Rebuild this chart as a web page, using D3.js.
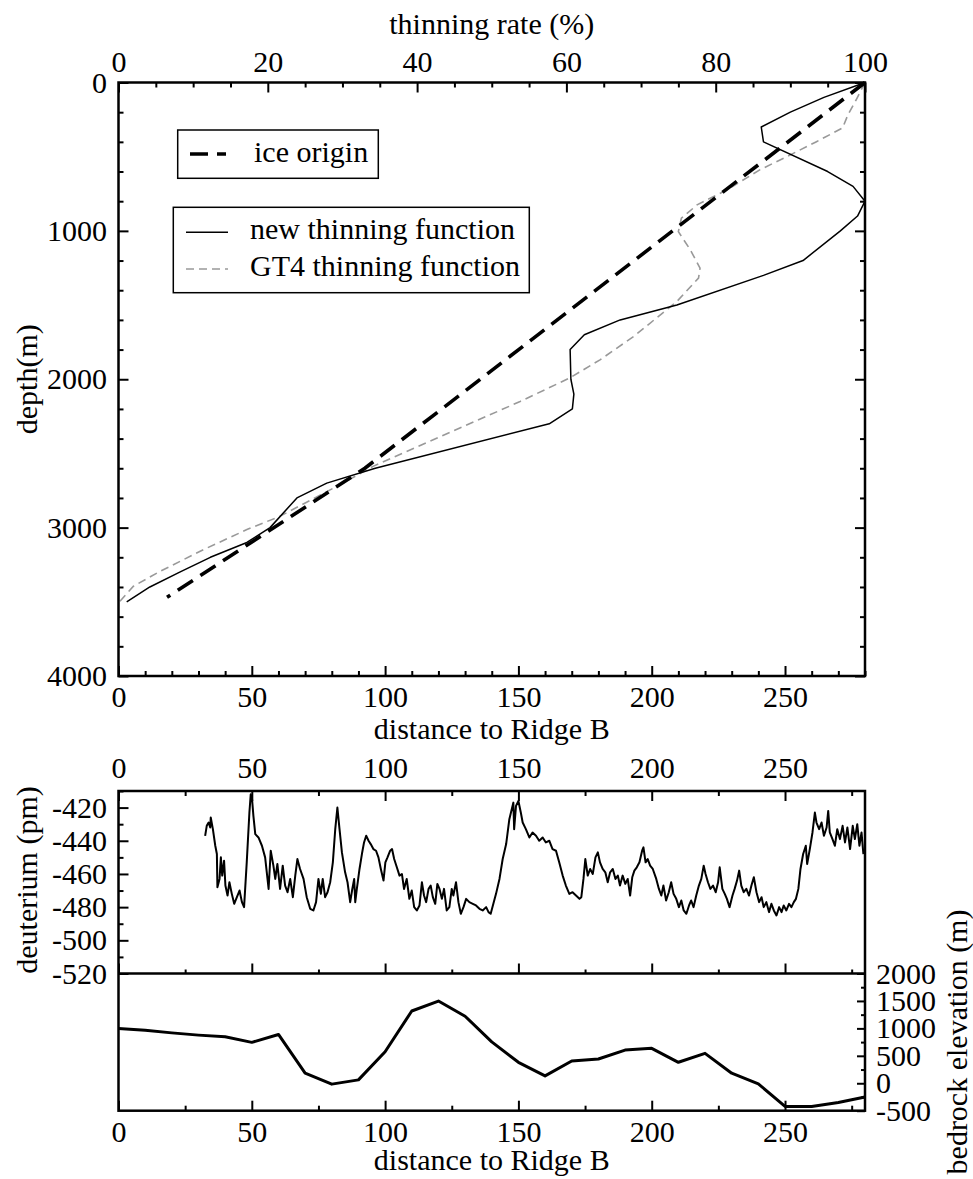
<!DOCTYPE html>
<html><head><meta charset="utf-8">
<script src="https://cdn.jsdelivr.net/npm/d3@7"></script>
<style>body{margin:0;background:#fff}</style>
</head><body><svg id="c" width="973" height="1179"></svg>
<script>
// ---------- DATA ----------
// Top panel: depth (m) vs thinning rate (%)
const thinDepth = [0,100,200,300,400,600,700,800,900,1000,1200,1300,1500,1600,1700,1800,2000,2100,2200,2300,2600,2700,2800,3000,3100,3200,3300,3400,3500];
const thinNew   = [100,94.5,90.0,86.1,86.4,95.0,98.4,100,99.0,96.7,91.7,86.4,74.8,67.2,62.4,60.5,60.6,61.0,60.8,57.7,34.4,27.9,23.9,20.3,17.2,12.3,8.2,4.2,1.1];
const gt4Depth  = [0,118,219,306,399,500,589,724,825,915,1005,1128,1251,1318,1476,1712,1869,1990,2150,2587,2710,2924,3013,3148,3294,3395,3496];
const gt4Rate   = [100,98.8,97.7,97.0,93.5,89.5,85.9,81.5,77.5,75.4,75.0,76.6,77.9,77.7,74.8,69.0,64.5,60.5,53.8,34.1,29.7,21.6,17.2,11.4,5.6,2.0,0.2];
const iceDepth  = [0,2600,3470];
const iceRate   = [100,33.0,6.5];

// Middle panel: deuterium (pm) vs distance to Ridge B  [distance, value]
const deuterium = [
[32.5,-437],[33.1,-431],[33.8,-429],[34.4,-432],[34.6,-426],[35.4,-433],[36.3,-443],[36.9,-448],[37.1,-468],[37.9,-463],
[38.4,-450],[38.9,-461],[39.6,-452],[40.1,-467],[40.9,-473],[41.6,-465],[42.5,-472],[43.4,-478],[44.4,-474],[45.4,-470],
[46.3,-477],[47.1,-480],[48.1,-453],[49.1,-423],[49.6,-412],[50.1,-415],[50.6,-425],[51.3,-436],[52.5,-438],[53.8,-443],
[55.0,-450],[56.3,-469],[57.1,-446],[58.1,-455],[58.8,-463],[59.6,-454],[60.6,-469],[61.6,-455],[62.5,-467],[63.4,-471],
[64.4,-463],[65.4,-474],[66.3,-461],[67.1,-451],[68.1,-457],[69.4,-463],[70.6,-474],[71.9,-481],[73.1,-482],[74.1,-477],
[75.0,-463],[75.9,-472],[76.6,-463],[77.5,-474],[78.4,-471],[79.4,-465],[80.4,-453],[81.3,-433],[82.1,-420],[82.9,-433],
[83.8,-447],[85.0,-459],[85.9,-465],[86.9,-477],[87.6,-470],[88.4,-463],[88.8,-477],[89.4,-469],[90.4,-457],[91.3,-448],
[92.1,-441],[92.9,-437],[93.8,-440],[94.6,-442],[95.6,-445],[96.6,-446],[97.5,-450],[98.4,-457],[99.4,-464],[100.1,-453],
[100.9,-450],[101.9,-446],[102.6,-445],[103.4,-451],[104.4,-456],[105.4,-461],[106.3,-460],[107.1,-469],[108.1,-463],[109.1,-475],
[110.0,-470],[110.9,-480],[111.9,-482],[112.9,-479],[113.8,-465],[114.6,-473],[115.4,-477],[116.3,-469],[117.1,-467],[117.9,-474],
[118.8,-478],[119.6,-466],[120.4,-469],[121.3,-475],[122.1,-469],[123.1,-482],[124.1,-480],[125.0,-469],[125.6,-473],[126.6,-465],
[127.5,-477],[128.4,-484],[129.4,-480],[130.4,-475],[131.6,-477],[132.9,-478],[134.1,-479],[135.4,-481],[136.6,-482],[137.9,-480],
[138.8,-483],[139.6,-484],[140.6,-478],[141.6,-472],[142.9,-463],[144.1,-451],[145.4,-442],[146.6,-427],[147.5,-421],[148.1,-417],
[148.4,-433],[149.1,-419],[150.0,-416],[150.9,-423],[151.6,-429],[152.8,-433],[154.1,-438],[155.3,-435],[156.6,-437],[157.8,-440],
[159.1,-438],[160.3,-441],[161.6,-440],[162.8,-445],[164.1,-446],[165.3,-453],[166.6,-461],[167.8,-467],[169.1,-472],[170.3,-471],
[171.6,-473],[172.9,-475],[173.6,-474],[174.4,-463],[175.1,-451],[176.0,-461],[176.9,-457],[177.9,-460],[178.9,-450],[179.8,-447],
[180.6,-453],[181.6,-457],[182.6,-459],[183.5,-465],[184.4,-459],[185.4,-457],[186.4,-463],[187.3,-461],[188.1,-467],[189.1,-461],
[190.1,-466],[191.0,-463],[191.9,-473],[192.7,-462],[193.5,-458],[194.4,-456],[195.4,-453],[196.4,-446],[196.9,-444],[197.7,-453],
[198.5,-451],[199.4,-455],[200.4,-457],[201.7,-463],[202.7,-469],[203.6,-473],[204.4,-467],[205.4,-476],[206.4,-471],[207.3,-465],
[208.2,-472],[209.2,-475],[210.2,-480],[211.1,-476],[212.0,-482],[213.0,-484],[214.0,-479],[214.8,-476],[215.7,-480],[216.7,-473],
[217.7,-467],[218.6,-463],[219.5,-455],[220.2,-460],[221.1,-465],[222.0,-469],[223.0,-467],[224.0,-471],[224.9,-465],[225.5,-456],
[226.5,-469],[227.4,-472],[228.2,-475],[229.2,-480],[230.3,-473],[231.1,-469],[232.0,-464],[232.8,-458],[233.6,-467],[234.5,-471],
[235.5,-469],[236.5,-473],[237.4,-467],[238.3,-462],[239.3,-471],[240.3,-477],[241.2,-474],[242.0,-480],[243.0,-477],[244.0,-483],
[244.9,-478],[245.8,-482],[246.8,-485],[247.8,-480],[248.7,-483],[249.5,-479],[250.5,-482],[251.5,-478],[252.4,-480],[253.3,-477],
[254.1,-475],[255.0,-469],[255.8,-457],[256.8,-448],[257.8,-443],[258.3,-454],[259.3,-445],[260.3,-435],[261.2,-423],[261.8,-429],
[262.8,-433],[263.7,-429],[264.6,-437],[265.6,-432],[266.2,-422],[266.8,-435],[267.8,-439],[268.7,-443],[269.6,-433],[270.6,-439],
[271.6,-431],[272.5,-441],[273.4,-432],[274.4,-445],[275.4,-431],[276.2,-439],[277.1,-430],[277.9,-443],[278.7,-435],[279.4,-448]
];

// Bottom panel: bedrock elevation (m) vs distance
const bedDist = [0,10,20,30,40,50,60,70,80,90,100,110,120,130,140,150,160,170,180,190,200,210,220,230,240,250,260,270,280];
const bedElev = [1000,967,918,877,846,745,889,183,-16,62,574,1317,1498,1221,755,382,134,406,442,605,636,382,545,183,-11,-422,-422,-350,-252];

// Tick values
const depthTicks = [0,1000,2000,3000,4000];
const rateTicks  = [0,20,40,60,80,100];
const distTicks  = [0,50,100,150,200,250];
const deutTicks  = [-520,-500,-480,-460,-440,-420];
const bedTicks   = [-500,0,500,1000,1500,2000];

// ---------- LAYOUT ----------
const FF = '"Liberation Serif"';
const FS = 30;
const L = 118.5, R = 865;
const T1 = 82.5, B1 = 676;
const T2 = 791, M2 = 973.5, B3 = 1110.7;

const svg = d3.select("#c");
svg.append("rect").attr("width",973).attr("height",1179).attr("fill","#fff");

const xDist = d3.scaleLinear([0,280],[L,R]);
const xRate = d3.scaleLinear([0,100],[L,R]);
const yDepth = d3.scaleLinear([0,4000],[T1,B1]);
const yDeut = d3.scaleLinear([-520,-410],[M2,T2]);
const yBed = d3.scaleLinear([-500,2000],[B3,M2]);

function drawAxis(orient, scale, pos, values, len, pad, labels) {
  const gen = {left:d3.axisLeft, right:d3.axisRight, top:d3.axisTop, bottom:d3.axisBottom}[orient];
  const a = gen(scale).tickValues(values).tickSize(-len).tickPadding(pad)
    .tickFormat(labels ? (d => String(d)) : (() => ""));
  const vertical = orient === "left" || orient === "right";
  const g = svg.append("g")
    .attr("transform", vertical ? `translate(${pos},0)` : `translate(0,${pos})`)
    .call(a);
  g.select(".domain").remove();
  g.selectAll(".tick line").attr("stroke", "#000").attr("stroke-width", 2);
  if (!labels) g.selectAll(".tick text").remove();
  g.selectAll(".tick text").attr("fill", "#000")
    .style("font-family", FF).style("font-size", FS + "px");
  return g;
}
const minorOf = (start, stop, step, majors) => d3.range(start, stop + step/2, step).filter(v => !majors.includes(v));

// ---------- TOP PANEL ----------
drawAxis("left", yDepth, L, depthTicks, 10, 11.5, true);
drawAxis("left", yDepth, L, minorOf(0,4000,200,depthTicks), 5, 0, false);
drawAxis("right", yDepth, R, depthTicks, 10, 0, false);
drawAxis("right", yDepth, R, minorOf(0,4000,200,depthTicks), 5, 0, false);
drawAxis("top", xRate, T1, rateTicks, 10, 11, true);
drawAxis("top", xRate, T1, minorOf(0,100,5,rateTicks), 5, 0, false);
drawAxis("bottom", xDist, B1, distTicks, 10, 9.5, true);
drawAxis("bottom", xDist, B1, minorOf(0,280,10,distTicks), 5, 0, false);

const lineTop = (rates, depths) => d3.line().x((d,i) => xRate(rates[i])).y((d,i) => yDepth(depths[i]))(depths);

svg.append("path").attr("d", lineTop(gt4Rate, gt4Depth))
  .attr("fill","none").attr("stroke","#999").attr("stroke-width",1.6).attr("stroke-dasharray","8,5");
svg.append("path").attr("d", lineTop(thinNew, thinDepth))
  .attr("fill","none").attr("stroke","#000").attr("stroke-width",1.5).attr("stroke-linejoin","round");
svg.append("path").attr("d", lineTop(iceRate, iceDepth))
  .attr("fill","none").attr("stroke","#000").attr("stroke-width",3.6).attr("stroke-dasharray","18,9");

svg.append("rect").attr("x",L).attr("y",T1).attr("width",R-L).attr("height",B1-T1)
  .attr("fill","none").attr("stroke","#000").attr("stroke-width",2.5);

// legends
svg.append("rect").attr("x",177.7).attr("y",130).attr("width",200.6).attr("height",48.3)
  .attr("fill","#fff").attr("stroke","#000").attr("stroke-width",1.5);
svg.append("line").attr("x1",190).attr("x2",226).attr("y1",154).attr("y2",154)
  .attr("stroke","#000").attr("stroke-width",3.6).attr("stroke-dasharray","18,9");
svg.append("rect").attr("x",173.3).attr("y",207.3).attr("width",356).attr("height",85.4)
  .attr("fill","#fff").attr("stroke","#000").attr("stroke-width",1.5);
svg.append("line").attr("x1",186).attr("x2",228).attr("y1",232.3).attr("y2",232.3)
  .attr("stroke","#000").attr("stroke-width",1.5);
svg.append("line").attr("x1",186).attr("x2",228).attr("y1",269).attr("y2",269)
  .attr("stroke","#999").attr("stroke-width",1.6).attr("stroke-dasharray","8,5");

function txt(x, y, s, anchor, rot) {
  const t = svg.append("text").style("font-family", FF).style("font-size", FS + "px").attr("fill","#000")
    .attr("text-anchor", anchor || "start").text(s);
  if (rot) t.attr("transform", `translate(${x},${y}) rotate(${rot})`);
  else t.attr("x", x).attr("y", y);
  return t;
}
txt(254, 161.5, "ice origin");
txt(250, 239, "new thinning function");
txt(250, 276, "GT4 thinning function");

txt((L+R)/2, 34, "thinning rate (%)", "middle");
txt((L+R)/2, 739, "distance to Ridge B", "middle");
txt(37, (T1+B1)/2, "depth(m)", "middle", -90);

// ---------- DEUTERIUM PANEL ----------
drawAxis("top", xDist, T2, distTicks, 10, 13, true);
drawAxis("top", xDist, T2, minorOf(25,275,50,[]), 5, 0, false);
drawAxis("bottom", xDist, M2, distTicks, 10, 0, false);
drawAxis("bottom", xDist, M2, minorOf(25,275,50,[]), 4, 0, false);
drawAxis("left", yDeut, L, deutTicks, 10, 11.5, true);
drawAxis("left", yDeut, L, minorOf(-510,-410,20,[]), 5, 0, false);

svg.append("path")
  .attr("d", d3.line().x(d => xDist(d[0])).y(d => yDeut(d[1]))(deuterium))
  .attr("fill","none").attr("stroke","#000").attr("stroke-width",2).attr("stroke-linejoin","round");

txt(37, 880, "deuterium (pm)", "middle", -90);

// ---------- BEDROCK PANEL ----------
drawAxis("bottom", xDist, B3, distTicks, 10, 10.2, true);
drawAxis("bottom", xDist, B3, minorOf(25,275,50,[]), 5, 0, false);
drawAxis("right", yBed, R, bedTicks, 8, 11, true);
drawAxis("right", yBed, R, minorOf(-250,1750,500,[]), 4, 0, false);

svg.append("path")
  .attr("d", d3.line().x((d,i) => xDist(bedDist[i])).y(d => yBed(d))(bedElev))
  .attr("fill","none").attr("stroke","#000").attr("stroke-width",3).attr("stroke-linejoin","round");

txt((L+R)/2, 1170, "distance to Ridge B", "middle");
txt(967, 1042, "bedrock elevation (m)", "middle", -90);

// frames for lower panels
svg.append("rect").attr("x",L).attr("y",T2).attr("width",R-L).attr("height",B3-T2)
  .attr("fill","none").attr("stroke","#000").attr("stroke-width",2.5);
svg.append("line").attr("x1",L).attr("x2",R).attr("y1",M2).attr("y2",M2)
  .attr("stroke","#000").attr("stroke-width",2.5);
</script>
</body></html>
